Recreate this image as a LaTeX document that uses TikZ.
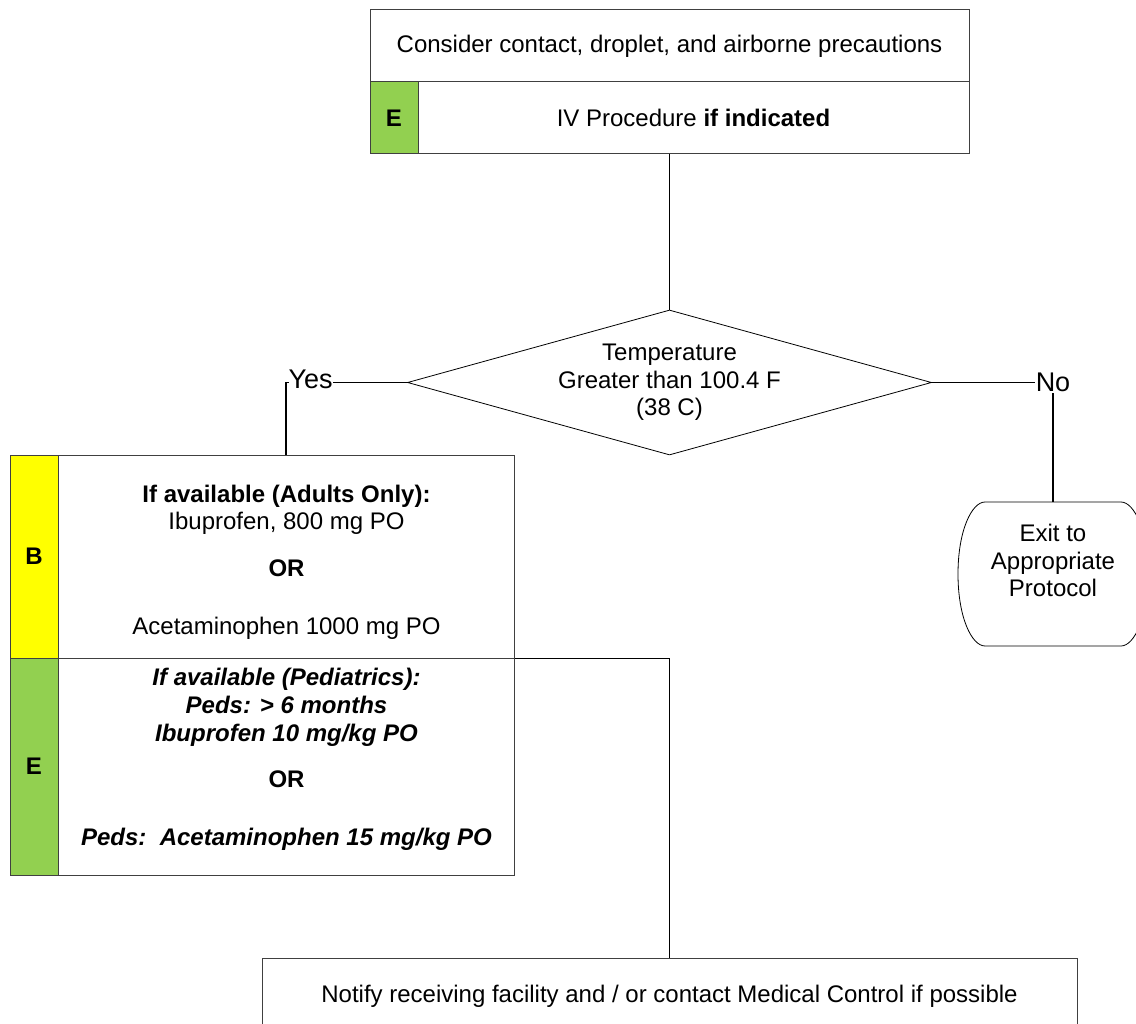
\documentclass[tikz,border=0pt]{standalone}
\usepackage{fontspec}
\setmainfont{Liberation Sans}
\usetikzlibrary{shapes.geometric}
\definecolor{egreen}{HTML}{92D050}
\definecolor{byellow}{HTML}{FFFF00}
\definecolor{boxline}{HTML}{404040}
\begin{document}
\begin{tikzpicture}[x=1pt,y=-1pt,
  every node/.style={font=\fontsize{24}{27.6}\selectfont},
  box/.style={draw=boxline, line width=1pt, rectangle, inner sep=0pt, align=center},
  strip/.style={box, minimum width=48pt, font=\fontsize{24}{27.6}\selectfont\bfseries},
  txt/.style={anchor=base, inner sep=0pt},
  conn/.style={draw=black, line width=1.2pt},
  branch/.style={fill=white, font=\fontsize{27}{30}\selectfont},
  outline/.style={draw=black, line width=0.8pt}]
\clip (0,0) rectangle (1136,1024);

% top step: precautions and IV access
\node[box, minimum width=599pt, minimum height=72pt] (prec) at (669.5,46)
  {Consider contact, droplet, and airborne precautions};
\node[strip, fill=egreen, minimum height=72pt] (ivE) at (394,118) {E};
\node[box, minimum width=551pt, minimum height=72pt] (iv) at (693.5,118)
  {IV Procedure \textbf{if indicated}};

% decision
\node[shape=diamond, outline, minimum width=524pt, minimum height=145pt,
  aspect=3.6, inner sep=0pt, align=center] (dec) at (669.5,382.5)
  {Temperature\\Greater than 100.4 F\\(38 C)};

% antipyretics: adults (B) and pediatrics (E)
\node[strip, fill=byellow, minimum height=203pt] (bstrip) at (34,556.5) {B};
\node[box, minimum width=456pt, minimum height=203pt] (adult) at (286,556.5) {};
\node[strip, fill=egreen, minimum height=217pt] (estrip) at (34,766.5) {E};
\node[box, minimum width=456pt, minimum height=217pt] (ped) at (286,766.5) {};

\node[txt] (a1) at (286.5,502) {\textbf{If available (Adults Only):}};
\node[txt] (a2) at (286.5,529) {Ibuprofen, 800 mg PO};
\node[txt] (a3) at (286.5,576) {\textbf{OR}};
\node[txt] (a4) at (286.5,634) {Acetaminophen 1000 mg PO};
\node[txt] (p1) at (286.5,685) {\textbf{\textit{If available (Pediatrics):}}};
\node[txt] (p2) at (286.5,713) {\textbf{\textit{Peds: > 6 months}}};
\node[txt] (p3) at (286.5,741) {\textbf{\textit{Ibuprofen 10 mg/kg PO}}};
\node[txt] (p4) at (286.5,787) {\textbf{OR}};
\node[txt] (p5) at (286.5,845) {\textbf{\textit{Peds:\ \ Acetaminophen 15 mg/kg PO}}};

% exit terminator
\node[minimum width=190pt, minimum height=144pt, inner sep=0pt] (exit) at (1053,574) {};
\draw[outline] (985,502) -- (1121,502)
  .. controls (1134,502) and (1148,530) .. (1148,574)
  .. controls (1148,618) and (1134,646) .. (1121,646)
  -- (985,646)
  .. controls (972,646) and (958,618) .. (958,574)
  .. controls (958,530) and (972,502) .. (985,502);
\node[align=center, inner sep=0pt] (exitlbl) at (1053,560.5) {Exit to\\Appropriate\\Protocol};

% final step
\node[box, minimum width=815pt, minimum height=76pt] (notify) at (669.5,996)
  {Notify receiving facility and / or contact Medical Control if possible};

% connectors
\draw[conn] (prec.south |- iv.south) -- (dec.north);
\draw[conn] (dec.west) -| node[branch, pos=0.5, anchor=west, inner sep=0pt,
  xshift=2pt, yshift=3pt] (yes) {Yes} (adult.north);
\draw[conn] (dec.east) -| node[branch, pos=0.5, inner sep=1pt] (no) {No} (exit.north);
\draw[conn] (adult.south east) -| (notify.north);
\end{tikzpicture}
\end{document}
